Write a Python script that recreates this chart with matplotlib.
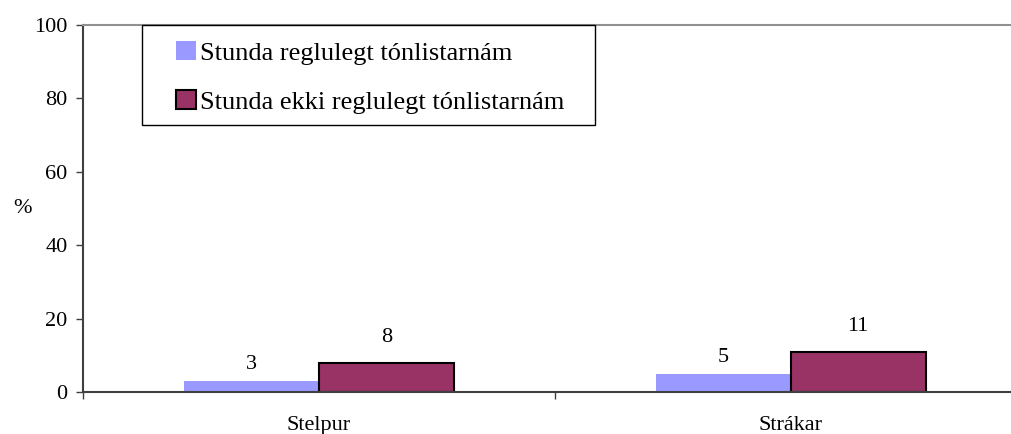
import matplotlib
matplotlib.use('Agg')

from matplotlib import pyplot as plt
from matplotlib.patches import Rectangle
import numpy as np

categories = ['Stelpur', 'Strákar']
series_names = ['Stunda reglulegt tónlistarnám', 'Stunda ekki reglulegt tónlistarnám']
regular = [3, 5]
not_regular = [8, 11]
yticks = [0, 20, 40, 60, 80, 100]

plt.rcParams['font.family'] = ['Liberation Serif', 'DejaVu Serif']

W, H = 1011, 434
fig = plt.figure(figsize=(W / 100, H / 100), dpi=100)
ax = fig.add_axes([83 / W, 1 - 392 / H, 1 - 83 / W, (392 - 25) / H])

x = np.arange(len(categories))
w = 0.285
b1 = ax.bar(x - w / 2, regular, w, color='#9999FF', edgecolor='none',
            label=series_names[0], zorder=2)
b2 = ax.bar(x + w / 2, not_regular, w, color='#993366', edgecolor='black',
            linewidth=1.5, label=series_names[1], zorder=2)

for bars, vals, off in ((b1, regular, 5), (b2, not_regular, 11.5)):
    for r, v in zip(bars, vals):
        ax.annotate('%d' % v, (r.get_x() + r.get_width() / 2, v),
                    xytext=(0, off), textcoords='offset points',
                    ha='center', va='bottom', fontsize=16)

ax.set_yticks(yticks)
ax.tick_params(axis='y', labelsize=16, length=5, width=1, color='#404040', pad=6)
ax.set_xticks(x)
ax.set_xticklabels(categories, fontsize=16)
ax.tick_params(axis='x', length=0, pad=17)
ax.set_xticks([-0.5, 0.5, 1.5], minor=True)
ax.tick_params(axis='x', which='minor', length=5, width=1, color='#404040')
ax.set_ylim(0, 100)
ax.set_xlim(-0.5, 1.5 - 16 / 472)

ax.set_ylabel('%', fontsize=16, rotation=0, ha='center', va='center')
ax.yaxis.set_label_coords(-(83 - 23) / 928, 0.5)

ax.spines['left'].set_color('#404040')
ax.spines['left'].set_linewidth(1.5)
ax.spines['bottom'].set_color('#404040')
ax.spines['bottom'].set_linewidth(1.5)
ax.spines['top'].set_color('#909090')
ax.spines['top'].set_linewidth(1.5)
ax.spines['right'].set_visible(False)

# legend frame drawn by hand, legend entries without frame
frame = Rectangle((142 / W, 1 - 125 / H), (595 - 142) / W, 100 / H,
                  transform=fig.transFigure, facecolor='white',
                  edgecolor='black', linewidth=1, zorder=3)
fig.add_artist(frame)
leg = fig.legend(handles=[b1, b2], loc='upper left',
                 bbox_to_anchor=(176 / W, 1 - 41 / H),
                 fontsize=19, frameon=False, handlelength=0.75,
                 handleheight=0.75, handletextpad=0.15, labelspacing=0.94,
                 borderpad=0, borderaxespad=0)
leg.set_zorder(4)

plt.savefig('out.png')
plt.close()
